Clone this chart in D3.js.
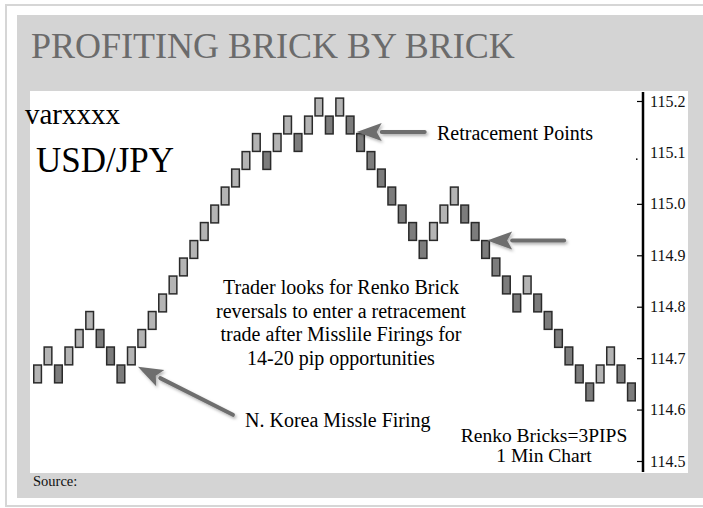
<!DOCTYPE html>
<html>
<head>
<meta charset="utf-8">
<script src="https://cdn.jsdelivr.net/npm/d3@7"></script>
<style>
  body { margin: 0; background: #fff; }
  text { font-family: "Liberation Serif", "Times New Roman", serif; }
</style>
</head>
<body>
<script>
// Renko chart, USD/JPY 1 min, 3 pip bricks

var width = 703,
    height = 508;

// bottom price of each brick, left to right
var brickLow = [
  114.652, 114.687, 114.652, 114.687, 114.721, 114.756, 114.721, 114.687, 114.652, 114.687,
  114.721, 114.756, 114.790, 114.825, 114.860, 114.894, 114.929, 114.963, 114.998, 115.033,
  115.067, 115.102, 115.067, 115.102, 115.136, 115.102, 115.136, 115.171, 115.136, 115.171,
  115.136, 115.102, 115.067, 115.033, 114.998, 114.963, 114.929, 114.894, 114.929, 114.963,
  114.998, 114.963, 114.929, 114.894, 114.860, 114.825, 114.790, 114.825, 114.790, 114.756,
  114.721, 114.687, 114.652, 114.617, 114.652, 114.687, 114.652, 114.617
];
// U = up brick (light), D = down brick (dark)
var brickDir = [
  "U","U","D","U","U","U","D","D","D","U",
  "U","U","U","U","U","U","U","U","U","U",
  "U","U","D","U","U","D","U","U","D","U",
  "D","D","D","D","D","D","D","D","U","U",
  "U","D","D","D","D","D","D","U","D","D",
  "D","D","D","D","U","U","D","D"
];
var brickSize = 0.0346; // height of one brick as drawn, in price

var priceTicks = [114.5, 114.6, 114.7, 114.8, 114.9, 115.0, 115.1, 115.2];

var centerNote = [
  "Trader looks for Renko Brick",
  "reversals to enter a retracement",
  "trade after Misslile Firings for",
  "14-20 pip opportunities"
];
var brickNote = ["Renko Bricks=3PIPS", "1 Min Chart"];

// arrows: brick they point at, which corner, and where the tail sits
var arrows = [
  { brick: 30, corner: "bottom", dx: 2, dy: -2, tx: 68, ty: 0 },
  { brick: 43, corner: "top", dx: -3, dy: 0, tx: 77, ty: 0 },
  { brick: 9, corner: "bottom", dx: 2, dy: 2, tx: 95, ty: 48 }
];

var plot = { left: 30, top: 91, right: 688, bottom: 473 };

var svg = d3.select("body").append("svg")
    .attr("width", width)
    .attr("height", height);

var defs = svg.append("defs");
var shadow = defs.append("filter").attr("id", "shadow")
    .attr("x", "-20%").attr("y", "-50%").attr("width", "140%").attr("height", "200%");
shadow.append("feDropShadow")
    .attr("dx", 1.5).attr("dy", 2).attr("stdDeviation", 1.5)
    .attr("flood-color", "#000").attr("flood-opacity", 0.3);

// frame, grey panel, white plot area
svg.append("rect")
    .attr("x", 6).attr("y", 5).attr("width", 720).attr("height", 501)
    .attr("fill", "#fff").attr("stroke", "#d6d6d6").attr("stroke-width", 2);
svg.append("rect")
    .attr("x", 17).attr("y", 15).attr("width", 700).attr("height", 483)
    .attr("fill", "#d4d4d4");
svg.append("rect")
    .attr("x", plot.left).attr("y", plot.top)
    .attr("width", plot.right - plot.left).attr("height", plot.bottom - plot.top)
    .attr("fill", "#fff");

svg.append("text")
    .attr("x", 31).attr("y", 58)
    .attr("font-size", 36).attr("fill", "#6b6b6b")
    .text("PROFITING BRICK BY BRICK");

svg.append("text")
    .attr("x", 33).attr("y", 486)
    .attr("font-size", 14.5).attr("fill", "#111")
    .text("Source:");

// scales
var x = d3.scaleBand()
    .domain(d3.range(brickLow.length))
    .range([33, 636])
    .paddingInner(0.12)
    .paddingOuter(0);

var y = d3.scaleLinear()
    .domain([114.5, 115.2])
    .range([461, 101]);

// bricks
svg.append("g").selectAll("rect")
    .data(brickLow)
  .enter().append("rect")
    .attr("x", function(d, i) { return x(i) + 0.75; })
    .attr("y", function(d) { return y(d + brickSize); })
    .attr("width", x.bandwidth() - 1.5)
    .attr("height", function(d) { return y(d) - y(d + brickSize); })
    .attr("fill", function(d, i) { return brickDir[i] === "U" ? "#b4b4b4" : "#7c7c7c"; })
    .attr("stroke", "#2a2a2a")
    .attr("stroke-width", 1.5);

// price axis on the right, ticks pointing in
var axisX = 643;
var axis = svg.append("g")
    .attr("transform", "translate(" + axisX + ",0)")
    .call(d3.axisRight(y)
      .tickValues(priceTicks)
      .tickFormat(d3.format(".1f"))
      .tickSizeInner(-6)
      .tickSizeOuter(0)
      .tickPadding(7));
axis.select(".domain").remove();
axis.selectAll(".tick line").attr("stroke", "#000").attr("stroke-width", 1.2);
axis.selectAll(".tick")
    .filter(function(d) { return d === 115.1; })
    .select("line").remove();
axis.selectAll(".tick text")
    .attr("font-family", "Liberation Serif, Times New Roman, serif")
    .attr("font-size", 16)
    .attr("fill", "#111");
// the stray dot where the 115.1 tick should be
axis.append("rect")
    .attr("x", -7).attr("y", y(115.1) + 6)
    .attr("width", 1.5).attr("height", 1.5)
    .attr("fill", "#000");
axis.append("line")
    .attr("x1", 0).attr("x2", 0)
    .attr("y1", plot.top + 1).attr("y2", plot.bottom - 1)
    .attr("stroke", "#000").attr("stroke-width", 2.5);

// arrows
var arrowG = svg.append("g").attr("filter", "url(#shadow)");
arrows.forEach(function(a) {
  var tipX = x(a.brick) + x.bandwidth() + a.dx,
      tipY = (a.corner === "top" ? y(brickLow[a.brick] + brickSize) : y(brickLow[a.brick])) + a.dy,
      tailX = tipX + a.tx,
      tailY = tipY + a.ty,
      ang = Math.atan2(tailY - tipY, tailX - tipX),
      len = 25, half = 9,
      bx = tipX + len * Math.cos(ang),
      by = tipY + len * Math.sin(ang);
  arrowG.append("line")
      .attr("x1", bx).attr("y1", by)
      .attr("x2", tailX).attr("y2", tailY)
      .attr("stroke", "#6e6e6e").attr("stroke-width", 4)
      .attr("stroke-linecap", "round");
  arrowG.append("path")
      .attr("d", "M" + tipX + "," + tipY +
        "L" + (bx - half * Math.sin(ang)) + "," + (by + half * Math.cos(ang)) +
        "L" + (tipX + (len - 5) * Math.cos(ang)) + "," + (tipY + (len - 5) * Math.sin(ang)) +
        "L" + (bx + half * Math.sin(ang)) + "," + (by - half * Math.cos(ang)) + "Z")
      .attr("fill", "#6e6e6e");
});

// labels
svg.append("text")
    .attr("x", 25).attr("y", 124)
    .attr("font-size", 29).attr("fill", "#000")
    .text("varxxxx");

svg.append("text")
    .attr("x", 36).attr("y", 172)
    .attr("font-size", 35).attr("fill", "#000")
    .text("USD/JPY");

svg.append("text")
    .attr("x", 437).attr("y", 140)
    .attr("font-size", 20).attr("fill", "#000")
    .text("Retracement Points");

svg.append("text")
    .attr("x", 245).attr("y", 427)
    .attr("font-size", 20).attr("fill", "#000")
    .text("N. Korea Missle Firing");

svg.append("g").selectAll("text")
    .data(centerNote)
  .enter().append("text")
    .attr("x", 341)
    .attr("y", function(d, i) { return 294 + i * 23.5; })
    .attr("text-anchor", "middle")
    .attr("font-size", 20).attr("fill", "#000")
    .text(function(d) { return d; });

svg.append("g").selectAll("text")
    .data(brickNote)
  .enter().append("text")
    .attr("x", 544)
    .attr("y", function(d, i) { return 442 + i * 20; })
    .attr("text-anchor", "middle")
    .attr("font-size", 19.5).attr("fill", "#000")
    .text(function(d) { return d; });
</script>
</body>
</html>
